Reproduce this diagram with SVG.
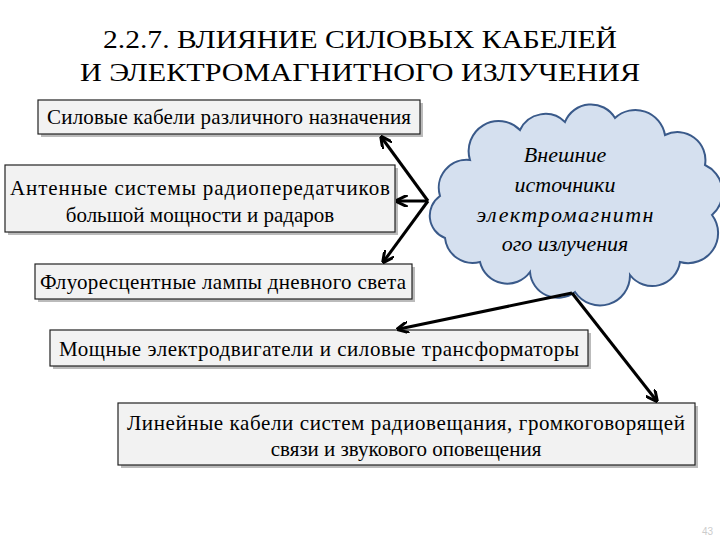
<svg xmlns="http://www.w3.org/2000/svg" width="720" height="540" viewBox="0 0 720 540">
<style>
.t{font-family:"Liberation Serif",serif;fill:#000}
.box{fill:#f2f2f2;stroke:#222;stroke-width:1.2}
.sh{fill:#bbb}
.c{stroke:#000;stroke-width:3;fill:none;marker-end:url(#a)}
</style>
<defs><marker id="a" viewBox="0 0 10 10" refX="8" refY="5" markerWidth="4" markerHeight="4" orient="auto"><path d="M0,0 L10,5 L0,10" fill="none" stroke="#000" stroke-width="2.5"/></marker></defs>
<rect width="720" height="540" fill="#fff"/>
<text class="t" x="360" y="48" text-anchor="middle" font-size="26" textLength="514" lengthAdjust="spacingAndGlyphs">2.2.7. ВЛИЯНИЕ СИЛОВЫХ КАБЕЛЕЙ</text>
<text class="t" x="360" y="81" text-anchor="middle" font-size="26" textLength="560" lengthAdjust="spacingAndGlyphs">И ЭЛЕКТРОМАГНИТНОГО ИЗЛУЧЕНИЯ</text>
<g id="cloud">
<path d="M440,196 A28,28 0 0 1 470,160 A30,30 0 0 1 520,130 A28,28 0 0 1 565,122 A28,28 0 0 1 615,118 A30,30 0 0 1 665,135 A28,28 0 0 1 705,165 A30,30 0 0 1 712,215 A30,30 0 0 1 680,262 A28,28 0 0 1 630,275 A30,30 0 0 1 575,292 A28,28 0 0 1 530,272 A28,28 0 0 1 480,262 A28,28 0 0 1 445,238 A24,24 0 0 1 440,196 Z" fill="#d5e0ef" stroke="#3a5a8a" stroke-width="2"/>
<g class="t" font-style="italic" font-size="22" text-anchor="middle">
<text x="565" y="162">Внешние</text><text x="565" y="192">источники</text><text x="565" y="222" textLength="177">электромагнитн</text><text x="565" y="251">ого излучения</text></g>
</g>
<g font-size="21" text-anchor="middle">
<g id="n1"><rect class="sh" x="41" y="103" width="382" height="34"/><rect class="box" x="38" y="100" width="382" height="34"/><text class="t" x="229" y="124" textLength="364">Силовые кабели различного назначения</text></g>
<g id="n2"><rect class="sh" x="8" y="168" width="390" height="67"/><rect class="box" x="5" y="165" width="390" height="67"/><text class="t" x="200" y="195" textLength="380">Антенные системы радиопередатчиков</text><text class="t" x="200" y="222">большой мощности и радаров</text></g>
<g id="n3"><rect class="sh" x="38" y="267" width="377" height="35"/><rect class="box" x="35" y="264" width="377" height="35"/><text class="t" x="223" y="289" textLength="366">Флуоресцентные лампы дневного света</text></g>
<g id="n4"><rect class="sh" x="53" y="333" width="538" height="36"/><rect class="box" x="50" y="330" width="538" height="36"/><text class="t" x="319" y="356" textLength="520">Мощные электродвигатели и силовые трансформаторы</text></g>
<g id="n5"><rect class="sh" x="121" y="406" width="577" height="62"/><rect class="box" x="118" y="403" width="577" height="62"/><text class="t" x="406" y="430" textLength="558">Линейные кабели систем радиовещания, громкоговорящей</text><text class="t" x="406" y="456">связи и звукового оповещения</text></g>
</g>
<g id="connectors">
<path class="c" d="M428,201 L382,138"/>
<path class="c" d="M428,201 L398,201"/>
<path class="c" d="M428,201 L384,261"/>
<path class="c" d="M572,293 L399,329"/>
<path class="c" d="M572,293 L656,400"/>
</g>
<text x="702" y="535" font-family="Liberation Sans,sans-serif" font-size="10" fill="#ccc">43</text>
</svg>
